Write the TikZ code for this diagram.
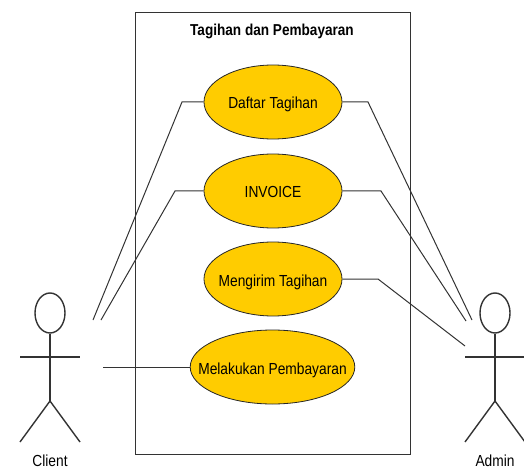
\documentclass[tikz,border=0pt]{standalone}
\usepackage{fontspec}
\usepackage{xcolor}
\usetikzlibrary{shapes.geometric}
\setmainfont{Liberation Sans}[FakeStretch=0.86]
\colorlet{linecolor}{black!80}
\definecolor{usecasecolor}{RGB}{255, 204, 0}
\tikzset{
        usecase/.style={ellipse, draw=black!85, fill=usecasecolor, line width=0.8pt, inner sep=0pt, text height=14pt, text depth=0pt, font=\fontsize{16}{18}\selectfont},
        link/.style={draw=linecolor, line width=1pt},
        stick/.style={draw=linecolor, line width=1.4pt},
}

\begin{document}
\begin{tikzpicture}[x=1pt, y=-1pt]
        \useasboundingbox (0, 0) rectangle (524, 470); % same size as the screenshot

        % System boundary
        \draw[linecolor, line width=0.9pt] (135, 12) rectangle (410, 454);
        \node[font=\fontsize{15.8}{18}\selectfont\bfseries] (title) at (272, 31) {Tagihan dan Pembayaran};

        % Use cases
        \node[usecase, minimum width=138pt, minimum height=74pt] (daftar) at (273, 102) {Daftar Tagihan};
        \node[usecase, minimum width=138pt, minimum height=74pt] (invoice) at (273, 191) {INVOICE};
        \node[usecase, inner xsep=-7pt, minimum width=138pt, minimum height=74pt] (mengirim) at (273, 279) {Mengirim Tagihan};
        \node[usecase, inner xsep=-16pt, minimum width=163pt, minimum height=74pt] (melakukan) at (272.5, 367) {Melakukan Pembayaran};

        % Actors
        \foreach \actor/\cx/\actorname in {client/50/Client, admin/495/Admin} {
                \node[ellipse, stick, minimum width=30pt, minimum height=40pt, inner sep=0pt] (\actor head) at (\cx, 313) {};
                \coordinate (\actor hip) at (\cx, 401);
                \draw[stick] (\actor head.south) -- (\actor hip);
                \draw[stick, line width=2pt] (\cx-30, 357) -- (\cx+30, 357);
                \draw[stick] (\cx-30, 442) -- (\actor hip) -- (\cx+30, 442);
                \node[inner sep=0pt, font=\fontsize{16}{18}\selectfont] (\actor label) at (\cx, 461) {\actorname};
        }

        % Free ends beside the actors
        \coordinate (client a) at (93, 320);
        \coordinate (client b) at (101, 320);
        \coordinate (client c) at (103, 367);
        \coordinate (admin a) at (472, 320);
        \coordinate (admin b) at (466, 321);
        \coordinate (admin c) at (465, 346);

        % Connectors
        \draw[link] (client a) -- (182, 102) -- (daftar.west);
        \draw[link] (client b) -- (175, 191) -- (invoice.west);
        \draw[link] (client c) -- (melakukan.west);
        \draw[link] (daftar.east) -- (368, 102) -- (admin a);
        \draw[link] (invoice.east) -- (381, 191) -- (admin b);
        \draw[link] (mengirim.east) -- (378, 279) -- (admin c);
\end{tikzpicture}
\end{document}
